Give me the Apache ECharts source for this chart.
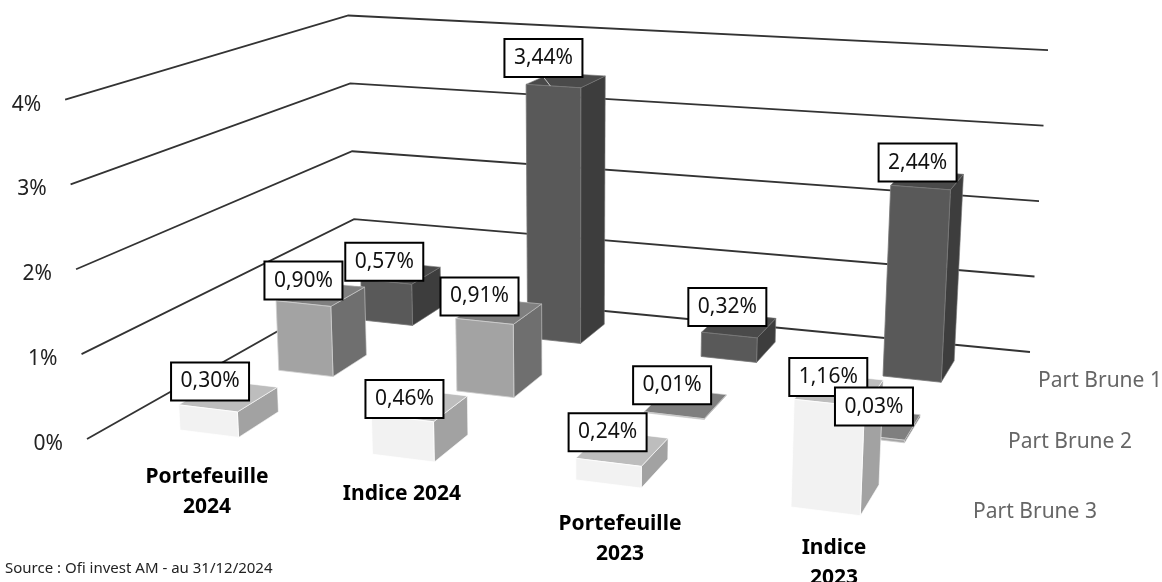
<!DOCTYPE html>
<html><head><meta charset="utf-8">
<script src="https://cdn.jsdelivr.net/npm/echarts@6/dist/echarts.min.js"></script>
<style>html,body{margin:0;background:#fff}#c{width:1162px;height:582px;filter:blur(0.4px)}</style></head>
<body><div id="c"></div>
<script>
// ---- data ----
const categories = ['Portefeuille\n2024', 'Indice 2024', 'Portefeuille\n2023', 'Indice\n2023'];
const seriesNames = ['Part Brune 1', 'Part Brune 2', 'Part Brune 3'];
const partBrune1 = [0.57, 3.44, 0.32, 2.44];
const partBrune2 = [0.90, 0.91, 0.01, 0.03];
const partBrune3 = [0.30, 0.46, 0.24, 1.16];
const tickValues = [0, 1, 2, 3, 4];
const tickLabels = ['0%', '1%', '2%', '3%', '4%'];
const sourceText = 'Source : Ofi invest AM - au 31/12/2024';

// ---- layout / style ----
const FONT = '"Noto Sans"';
const floorQuad = [[180,430],[791,507],[883,376],[362,320]]; // floor anchors: cat0/row0, cat3/row0, cat3/row2, cat0/row2
const wall = {frontLeft:[87,439], backLeft:[356,287], backRight:[1030,352]};
const vanish = [574, 8000];
const barW = 0.31, barD = 0.4;
const categoryLabelPos = [[207,492],[402,494],[620,539],[834,563]];
const seriesLabelPos = [[1100,381],[1070,442],[1035,512]];
const labelNudge = [ // label box shift per row (front to back) and category
  [[2,2],[2,10],[-1,-1],[-1,3]],
  [[0,6],[-5,4],[-2,-1],[1,-1]],
  [[-2,9],[-10,1],[-2,1],[-3,4]]
];
const leaderLines = [[2,1]]; // row, category of labels with a visible leader line
const palette = [
  {front:'#595959', top:'#4a4a4a', side:'#3d3d3d', edge:'#777777'},
  {front:'#a3a3a3', top:'#7f7f7f', side:'#6f6f6f', edge:'#cfcfcf'},
  {front:'#f2f2f2', top:'#bdbdbd', side:'#a2a2a2', edge:'#ffffff'}
];

// perspective helpers
const H = (function(){
  const [[x0,y0],[x1,y1],[x2,y2],[x3,y3]] = floorQuad;
  const dx1=x1-x2, dx2=x3-x2, sx=x0-x1+x2-x3, dy1=y1-y2, dy2=y3-y2, sy=y0-y1+y2-y3;
  const den=dx1*dy2-dx2*dy1, g=(sx*dy2-dx2*sy)/den, h=(dx1*sy-sx*dy1)/den;
  return {a:x1-x0+g*x1,b:x3-x0+h*x3,c:x0,d:y1-y0+g*y1,e:y3-y0+h*y3,f:y0,g,h};
})();
function floorPt(u,row){
  const s=u/3,t=row/2,w=H.g*s+H.h*t+1;
  return [(H.a*s+H.b*t+H.c)/w,(H.d*s+H.e*t+H.f)/w];
}
function raise(p,v){
  const perUnit = 35.4 + 0.00044*p[0] + 0.1126*p[1];
  const h = perUnit*v;
  return [p[0] + (p[0]-vanish[0])/(vanish[1]-p[1])*h, p[1]-h];
}
// the hidden grid gives 100 px per category and 100 px per percent point
const uOf = (api,c)=>api.coord([c,0])[0]/100;
const vOf = (api,v)=>(api.coord([0,0])[1]-api.coord([0,v])[1])/100;

function barFaces(api,row){
  const u=uOf(api,api.value(0)), v=vOf(api,api.value(1));
  const fl=floorPt(u,row), fr=floorPt(u+barW,row), bl=floorPt(u,row+barD), br=floorPt(u+barW,row+barD);
  return {fl,fr,bl,br,tfl:raise(fl,v),tfr:raise(fr,v),tbl:raise(bl,v),tbr:raise(br,v)};
}
function barSeries(name,values,row,colors,z){
  return {type:'custom',name,coordinateSystem:'cartesian2d',data:values.map((v,i)=>[i,v]),
    clip:false,silent:true,animation:false,z,
    renderItem(p,api){
      const f=barFaces(api,row);
      const poly=(pts,fill,lw)=>({type:'polygon',shape:{points:pts},style:{fill,stroke:colors.edge,lineWidth:lw}});
      return {type:'group',children:[
        poly([f.fr,f.br,f.tbr,f.tfr],colors.side,0.6),
        poly([f.tfl,f.tfr,f.tbr,f.tbl],colors.top,0.6),
        poly([f.fl,f.fr,f.tfr,f.tfl],colors.front,0.8)
      ]};
    }};
}
function labelSeries(values,row,z){
  return {type:'custom',coordinateSystem:'cartesian2d',data:values.map((v,i)=>[i,v]),
    clip:false,silent:true,animation:false,z,
    renderItem(p,api){
      const f=barFaces(api,row);
      const n=labelNudge[row][p.dataIndex];
      const tx=(f.tfl[0]+f.tfr[0])/2, ty=(f.tfl[1]+f.tfr[1])/2;
      const cx=tx+n[0], cy=ty-29+n[1];
      const txt=api.value(1).toFixed(2).replace('.',',')+'%';
      const kids=[
        {type:'rect',shape:{x:cx-39,y:cy-19,width:78,height:38},style:{fill:'#fff',stroke:'#000',lineWidth:2}},
        {type:'text',style:{text:txt,x:cx,y:cy,align:'center',verticalAlign:'middle',font:'21px '+FONT,fill:'#111'}}
      ];
      if(leaderLines.some(l=>l[0]===row&&l[1]===p.dataIndex))
        kids.unshift({type:'line',shape:{x1:cx,y1:cy+19,x2:tx-3,y2:ty},style:{stroke:'#c8c8c8',lineWidth:1}});
      return {type:'group',children:kids};
    }};
}
const gridSeries = {type:'custom',coordinateSystem:'cartesian2d',data:tickValues.map(v=>[0,v]),
  clip:false,silent:true,animation:false,z:1,
  renderItem(p,api){
    const v=vOf(api,api.value(1));
    const a=raise(wall.frontLeft,v), b=raise(wall.backLeft,v), c=raise(wall.backRight,v);
    return {type:'group',children:[
      {type:'polyline',shape:{points:[a,b,c]},style:{fill:'none',stroke:'#333333',lineWidth:1.8,lineJoin:'miter'}},
      {type:'text',style:{text:tickLabels[p.dataIndex],x:a[0]-24,y:a[1]+5,align:'right',verticalAlign:'middle',font:'21px '+FONT,fill:'#222'}}
    ]};
  }};

const chart = echarts.init(document.getElementById('c'),null,{renderer:'canvas'});
chart.setOption({
  animation:false,
  backgroundColor:'#fff',
  grid:{left:0,top:0,width:300,height:400,show:false},
  xAxis:{type:'value',min:0,max:3,interval:1,show:false},
  yAxis:{type:'value',min:0,max:4,interval:1,show:false},
  series:[
    gridSeries,
    barSeries(seriesNames[0],partBrune1,2,palette[0],2),
    barSeries(seriesNames[1],partBrune2,1,palette[1],3),
    barSeries(seriesNames[2],partBrune3,0,palette[2],4),
    labelSeries(partBrune3,0,5),
    labelSeries(partBrune2,1,6),
    labelSeries(partBrune1,2,7)
  ],
  graphic:[
    ...categories.map((t,i)=>({type:'text',silent:true,z:10,x:categoryLabelPos[i][0],y:categoryLabelPos[i][1],
      style:{text:t,align:'center',verticalAlign:'middle',font:'bold 21px '+FONT,lineHeight:30,fill:'#000'}})),
    ...seriesNames.map((t,i)=>({type:'text',silent:true,z:10,x:seriesLabelPos[i][0],y:seriesLabelPos[i][1],
      style:{text:t,align:'center',verticalAlign:'middle',font:'21px '+FONT,fill:'#666'}})),
    {type:'text',silent:true,z:10,x:5,y:569,style:{text:sourceText,align:'left',verticalAlign:'middle',font:'15px '+FONT,fill:'#222'}}
  ]
});
</script></body></html>
